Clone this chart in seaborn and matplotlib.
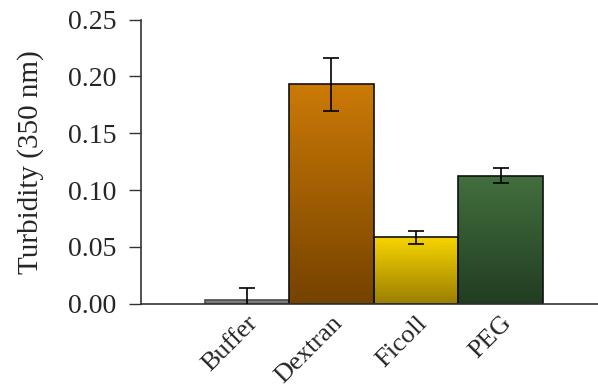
import numpy as np
import matplotlib
matplotlib.use('Agg')
import matplotlib.pyplot as plt
import seaborn as sns
from matplotlib.colors import LinearSegmentedColormap

sns.set_theme(style='white')
plt.rcParams['font.family'] = ['Liberation Serif', 'DejaVu Serif']

# 数据
categories = ['Buffer', 'Dextran', 'Ficoll', 'PEG']
turbidity = [0.003, 0.193, 0.0585, 0.1128]
errors = [0.011, 0.023, 0.0055, 0.0065]
# 渐变色 (上, 下)
top_colors = ['#8a8a8a', '#cc7a06', '#f7d400', '#436f3f']
bottom_colors = ['#6e6e6e', '#754200', '#9a7e00', '#213d21']
edge_colors = ['#4a4a4a', '#111111', '#111111', '#111111']

fig, ax = plt.subplots(figsize=(5.98, 3.92), dpi=100)
sns.barplot(x=categories, y=turbidity, ax=ax, width=1.0,
            palette=top_colors, hue=categories, legend=False,
            saturation=1)

# 渐变填充
for patch, c1, c2, ec in zip(ax.patches, top_colors, bottom_colors, edge_colors):
    x0, y0 = patch.get_x(), patch.get_y()
    w, h = patch.get_width(), patch.get_height()
    cmap = LinearSegmentedColormap.from_list('g', [c2, c1])
    grad = np.linspace(0, 1, 256).reshape(-1, 1)
    im = ax.imshow(grad, cmap=cmap, aspect='auto', origin='lower',
                   extent=[x0, x0 + w, y0, y0 + h], zorder=1)
    im.set_clip_path(patch)
    patch.set_facecolor('none')
    patch.set_edgecolor(ec)
    patch.set_linewidth(1.2)
    patch.set_zorder(2)

ax.errorbar(range(len(categories)), turbidity, yerr=errors, fmt='none',
            ecolor='black', elinewidth=1.2, capsize=6, capthick=1.2, zorder=3)

ax.set_xlim(-1.25, 4.15)
ax.set_ylim(0, 0.25)
ax.set_yticks([0, 0.05, 0.10, 0.15, 0.20, 0.25])
ax.set_yticklabels([f'{v:.2f}' for v in [0, 0.05, 0.10, 0.15, 0.20, 0.25]])
ax.set_ylabel('Turbidity (350 nm)', fontsize=21, labelpad=17)
ax.set_xlabel('')
ax.tick_params(axis='y', labelsize=20, length=9, width=1, color='#333333',
               direction='out', left=True, pad=9)
ax.tick_params(axis='x', labelsize=19, length=0, pad=6)
plt.setp(ax.get_xticklabels(), rotation=45, ha='right', rotation_mode='anchor')

for s in ['top', 'right']:
    ax.spines[s].set_visible(False)
for s in ['left', 'bottom']:
    ax.spines[s].set_color('#333333')
    ax.spines[s].set_linewidth(1.2)

fig.subplots_adjust(left=0.236, right=1.0, top=0.95, bottom=0.225)
fig.savefig('out.png', dpi=100)
plt.close()
